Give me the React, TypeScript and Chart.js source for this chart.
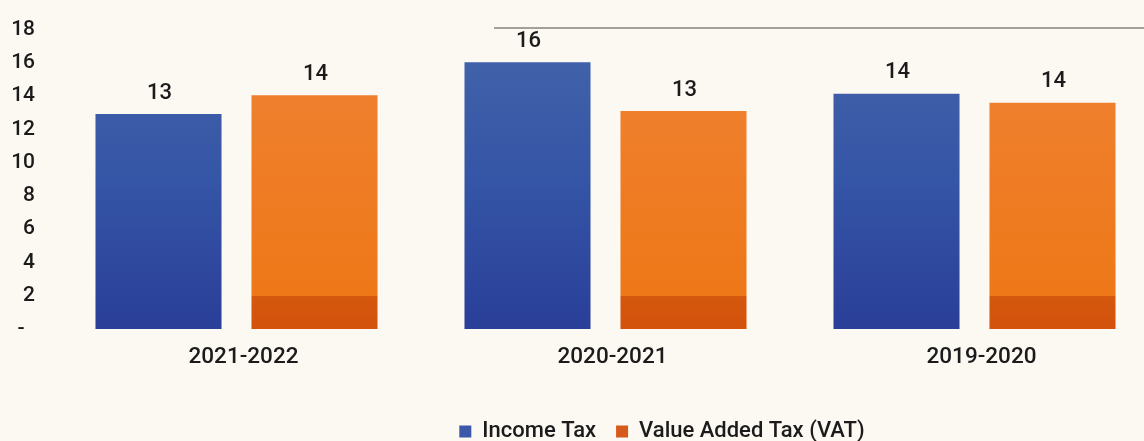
import React, { useEffect, useRef } from 'react';
import { Chart, registerables } from 'chart.js';

Chart.register(...registerables);

const categories = ['2021-2022', '2020-2021', '2019-2020'];
const incomeTax = [12.92, 16.04, 14.15];
const vat = [14.06, 13.1, 13.6];
const seriesNames = ['Income Tax', 'Value Added Tax (VAT)'];
const yMin = 0;
const yMax = 18;
const yStep = 2;
const vatBaseBand = 2;

const FONT = 'Roboto, "DejaVu Sans", sans-serif';
const TEXT = '#1b1b1b';

const blueGradient = (ctx: any) => {
  const chart = ctx.chart;
  const area = chart.chartArea;
  if (!area) return '#3352a5';
  const g = chart.ctx.createLinearGradient(0, area.top, 0, area.bottom);
  g.addColorStop(0, '#4464ab');
  g.addColorStop(0.5, '#3555a6');
  g.addColorStop(1, '#2a3f98');
  return g;
};

const orangeGradient = (ctx: any) => {
  const chart = ctx.chart;
  const area = chart.chartArea;
  const y = chart.scales?.y;
  if (!area || !y) return '#f07d1e';
  const p0 = y.getPixelForValue(yMin);
  const pb = y.getPixelForValue(vatBaseBand);
  const t = (p0 - pb) / (p0 - area.top);
  const g = chart.ctx.createLinearGradient(0, p0, 0, area.top);
  g.addColorStop(0, '#d4520c');
  g.addColorStop(t, '#d4580e');
  g.addColorStop(Math.min(1, t + 0.0001), '#ee7818');
  g.addColorStop(1, '#f08235');
  return g;
};

const valueLabels = {
  id: 'valueLabels',
  afterDatasetsDraw(chart: any) {
    const c = chart.ctx;
    c.save();
    c.font = `500 22px ${FONT}`;
    c.fillStyle = TEXT;
    c.textAlign = 'center';
    c.textBaseline = 'alphabetic';
    chart.data.datasets.forEach((ds: any, i: number) => {
      const meta = chart.getDatasetMeta(i);
      meta.data.forEach((el: any, j: number) => {
        c.fillText(String(Math.round(ds.data[j])), el.x + 1, el.y - 15.5);
      });
    });
    c.restore();
  },
};

const legendShift = {
  id: 'legendShift',
  afterLayout(chart: any) {
    const lg = chart.legend;
    if (!lg) return;
    const dx = 662 - (lg.left + lg.right) / 2;
    const dy = 11.5;
    lg.left += dx;
    lg.right += dx;
    lg.top += dy;
    lg.bottom += dy;
  },
};

const topRule = {
  id: 'topRule',
  beforeDatasetsDraw(chart: any) {
    const c = chart.ctx;
    c.save();
    c.strokeStyle = '#a3a09c';
    c.lineWidth = 2;
    c.beginPath();
    c.moveTo(494, 28);
    c.lineTo(chart.width, 28);
    c.stroke();
    c.restore();
  },
};

export default function App() {
  const ref = useRef<HTMLCanvasElement | null>(null);

  useEffect(() => {
    document.body.style.margin = '0';
    document.body.style.overflow = 'hidden';
    document.body.style.background = '#fcf8f2';
    if (!ref.current) return;
    const chart = new Chart(ref.current, {
      type: 'bar',
      data: {
        labels: categories,
        datasets: [
          {
            label: seriesNames[0],
            data: incomeTax,
            backgroundColor: blueGradient,
            barPercentage: 0.808,
            categoryPercentage: 0.8455,
          },
          {
            label: seriesNames[1],
            data: vat,
            backgroundColor: orangeGradient,
            barPercentage: 0.808,
            categoryPercentage: 0.8455,
          },
        ],
      },
      options: {
        animation: false,
        responsive: true,
        maintainAspectRatio: false,
        layout: { padding: { top: 27, left: 0, right: 0, bottom: 0 } },
        scales: {
          x: {
            grid: { display: false, drawTicks: false },
            border: { display: false },
            ticks: {
              color: TEXT,
              font: { family: FONT, size: 22.5, weight: '500' },
              padding: 15,
              labelOffset: 7,
            },
            afterFit: (s: any) => {
              s.height = 60;
            },
          },
          y: {
            min: yMin,
            max: yMax,
            grid: { display: false, drawTicks: false },
            border: { display: false },
            ticks: {
              stepSize: yStep,
              color: TEXT,
              font: { family: FONT, size: 21, weight: '500' },
              padding: 17,
              callback: (v: any) => (Number(v) === 0 ? '-\u00a0\u00a0' : String(v)),
            },
            afterFit: (s: any) => {
              s.width = 52;
            },
          },
        },
        plugins: {
          legend: {
            position: 'bottom',
            labels: {
              color: TEXT,
              font: { family: FONT, size: 22, weight: '500' },
              boxWidth: 12,
              boxHeight: 12,
              padding: 20,
              generateLabels: () => [
                { text: seriesNames[0], fillStyle: '#3c58a8', strokeStyle: '#3c58a8', lineWidth: 0, datasetIndex: 0, fontColor: TEXT },
                { text: seriesNames[1], fillStyle: '#d65a1a', strokeStyle: '#d65a1a', lineWidth: 0, datasetIndex: 1, fontColor: TEXT },
              ],
            },
          },
          tooltip: { enabled: false },
        },
      },
      plugins: [topRule, valueLabels, legendShift],
    });
    return () => chart.destroy();
  }, []);

  return (
    <div style={{ position: 'fixed', left: 0, top: 0, width: 1159, height: 441, background: '#fcf8f2' }}>
      <canvas ref={ref} />
    </div>
  );
}
